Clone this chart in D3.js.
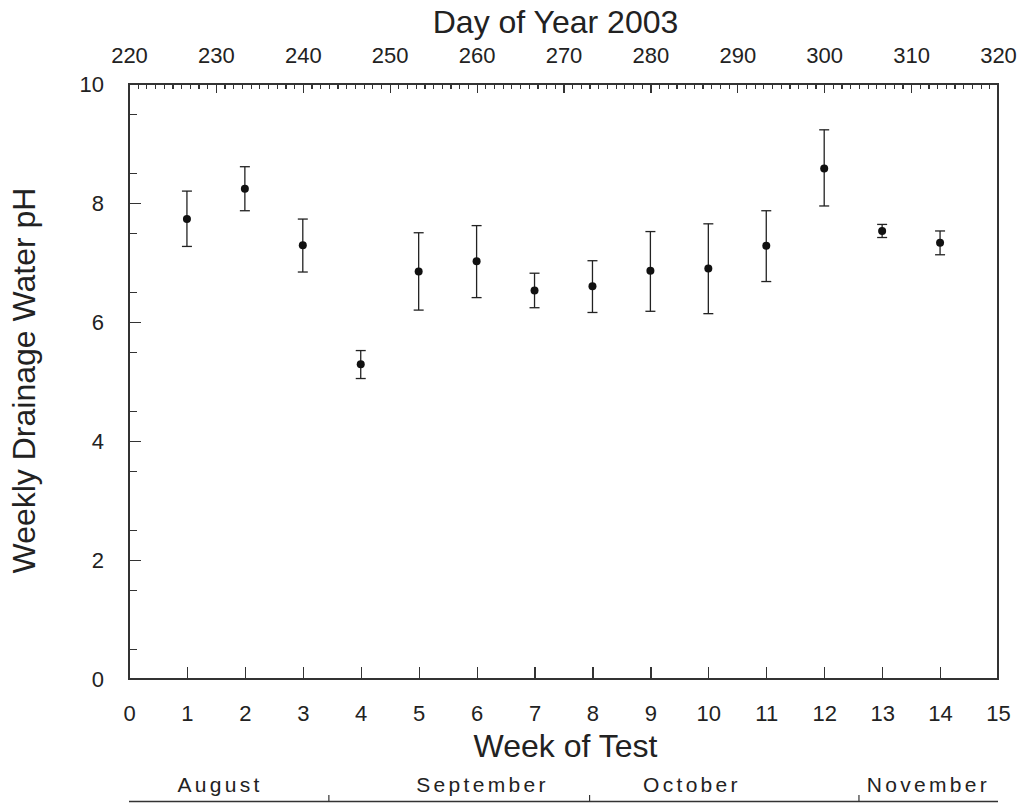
<!DOCTYPE html>
<html>
<head>
  <meta charset="utf-8">
  <title>Weekly Drainage Water pH</title>
  <script src="https://cdn.jsdelivr.net/npm/d3@7"></script>
  <style>
    body { margin: 0; background: #fff; }
    text { font-family: "Liberation Sans", Arial, sans-serif; fill: #222; }
    .axis line { stroke: #333; stroke-width: 1.2; shape-rendering: crispEdges; }
    .axis path { display: none; }
    .axis text { font-size: 22px; }
    .title { font-size: 32px; text-anchor: middle; }
    .month { font-size: 21px; letter-spacing: 3.3px; text-anchor: middle; }
  </style>
</head>
<body>
<script>
// data
var weeks   = [1, 2, 3, 4, 5, 6, 7, 8, 9, 10, 11, 12, 13, 14];
var phMean  = [7.73, 8.24, 7.29, 5.29, 6.85, 7.02, 6.53, 6.60, 6.86, 6.90, 7.28, 8.58, 7.53, 7.33];
var phHigh  = [8.20, 8.61, 7.73, 5.52, 7.50, 7.62, 6.82, 7.03, 7.52, 7.65, 7.87, 9.23, 7.64, 7.53];
var phLow   = [7.27, 7.87, 6.84, 5.05, 6.20, 6.41, 6.24, 6.16, 6.18, 6.14, 6.68, 7.95, 7.42, 7.13];
var months  = ["August", "September", "October", "November"];
var monthLabelDay = [230.3, 260.5, 284.6, 311.8]; // day of year where each name sits
var monthEndDay   = [243, 273, 304];                // Aug 31, Sep 30, Oct 31
var weekTicks = d3.range(0, 16);
var dayTicks  = d3.range(220, 321, 10);
var yTicks    = [0, 2, 4, 6, 8, 10];

var width = 1026, height = 803;
var pLeft = 129, pRight = 998, pTop = 84, pBottom = 679;

var svg = d3.select("body").append("svg")
    .attr("width", width)
    .attr("height", height);

var x = d3.scaleLinear().domain([0, 15]).range([pLeft, pRight]);
var xDay = d3.scaleLinear().domain([220, 320]).range([pLeft, pRight]);
var y = d3.scaleLinear().domain([0, 10]).range([pBottom, pTop]);

// frame
svg.append("rect")
    .attr("x", pLeft).attr("y", pTop)
    .attr("width", pRight - pLeft).attr("height", pBottom - pTop)
    .attr("fill", "none").attr("stroke", "#333").attr("stroke-width", 1.3)
    .attr("shape-rendering", "crispEdges");

// bottom axis: week of test
svg.append("g")
    .attr("class", "axis")
    .attr("transform", "translate(0," + pBottom + ")")
    .call(d3.axisBottom(x).tickValues(weekTicks).tickSizeInner(-12).tickSizeOuter(0).tickPadding(26).tickFormat(d3.format("d")))
    .selectAll("line").filter(function(d){ return d == 0 || d == 15; }).remove();

// top axis: day of year, minor ticks every day
svg.append("g")
    .attr("class", "axis")
    .attr("transform", "translate(0," + pTop + ")")
    .call(d3.axisTop(xDay).tickValues(d3.range(221, 320)).tickSizeInner(-5).tickSizeOuter(0).tickFormat(""));
svg.append("g")
    .attr("class", "axis")
    .attr("transform", "translate(0," + pTop + ")")
    .call(d3.axisTop(xDay).tickValues(dayTicks).tickSizeInner(-9).tickSizeOuter(0).tickPadding(21).tickFormat(d3.format("d")));

// left axis
svg.append("g")
    .attr("class", "axis")
    .attr("transform", "translate(" + pLeft + ",0)")
    .call(d3.axisLeft(y).tickValues(d3.range(0.5, 10, 1)).tickSizeInner(-8).tickSizeOuter(0).tickFormat(""));
svg.append("g")
    .attr("class", "axis")
    .attr("transform", "translate(" + pLeft + ",0)")
    .call(d3.axisLeft(y).tickValues(yTicks).tickSizeInner(-12).tickSizeOuter(0).tickPadding(25).tickFormat(d3.format("d")))
    .selectAll("line").filter(function(d){ return d == 0 || d == 10; }).remove();

// titles
svg.append("text").attr("class", "title")
    .attr("x", (pLeft + pRight) / 2 - 8).attr("y", 33)
    .text("Day of Year 2003");
svg.append("text").attr("class", "title")
    .attr("x", (pLeft + pRight) / 2 + 2).attr("y", 757)
    .text("Week of Test");
svg.append("text").attr("class", "title")
    .attr("transform", "translate(35," + ((pTop + pBottom) / 2 - 1) + ") rotate(-90)")
    .text("Weekly Drainage Water pH");

// month band
var band = svg.append("g");
band.append("line")
    .attr("x1", pLeft).attr("x2", pRight)
    .attr("y1", 801.5).attr("y2", 801.5)
    .attr("stroke", "#333").attr("stroke-width", 1.3);
band.selectAll(".divider")
    .data(monthEndDay)
    .enter().append("line")
    .attr("x1", function(d){ return xDay(d); })
    .attr("x2", function(d){ return xDay(d); })
    .attr("y1", 795).attr("y2", 801.5)
    .attr("stroke", "#333").attr("stroke-width", 1.2);
band.selectAll(".month")
    .data(months)
    .enter().append("text")
    .attr("class", "month")
    .attr("x", function(d, i){ return xDay(monthLabelDay[i]) + 1.6; })
    .attr("y", 792)
    .text(function(d){ return d; });

// error bars and points
var pts = weeks.map(function(w, i){ return {w: w, m: phMean[i], hi: phHigh[i], lo: phLow[i]}; });
var g = svg.append("g");
var bars = g.selectAll(".bar").data(pts).enter().append("g");
bars.append("line")
    .attr("x1", function(d){ return x(d.w); }).attr("x2", function(d){ return x(d.w); })
    .attr("y1", function(d){ return y(d.hi); }).attr("y2", function(d){ return y(d.lo); })
    .attr("stroke", "#222").attr("stroke-width", 1.3);
bars.append("line")
    .attr("x1", function(d){ return x(d.w) - 5; }).attr("x2", function(d){ return x(d.w) + 5; })
    .attr("y1", function(d){ return y(d.hi); }).attr("y2", function(d){ return y(d.hi); })
    .attr("stroke", "#222").attr("stroke-width", 1.3);
bars.append("line")
    .attr("x1", function(d){ return x(d.w) - 5; }).attr("x2", function(d){ return x(d.w) + 5; })
    .attr("y1", function(d){ return y(d.lo); }).attr("y2", function(d){ return y(d.lo); })
    .attr("stroke", "#222").attr("stroke-width", 1.3);
bars.append("circle")
    .attr("cx", function(d){ return x(d.w); })
    .attr("cy", function(d){ return y(d.m); })
    .attr("r", 4)
    .attr("fill", "#111");
</script>
</body>
</html>
